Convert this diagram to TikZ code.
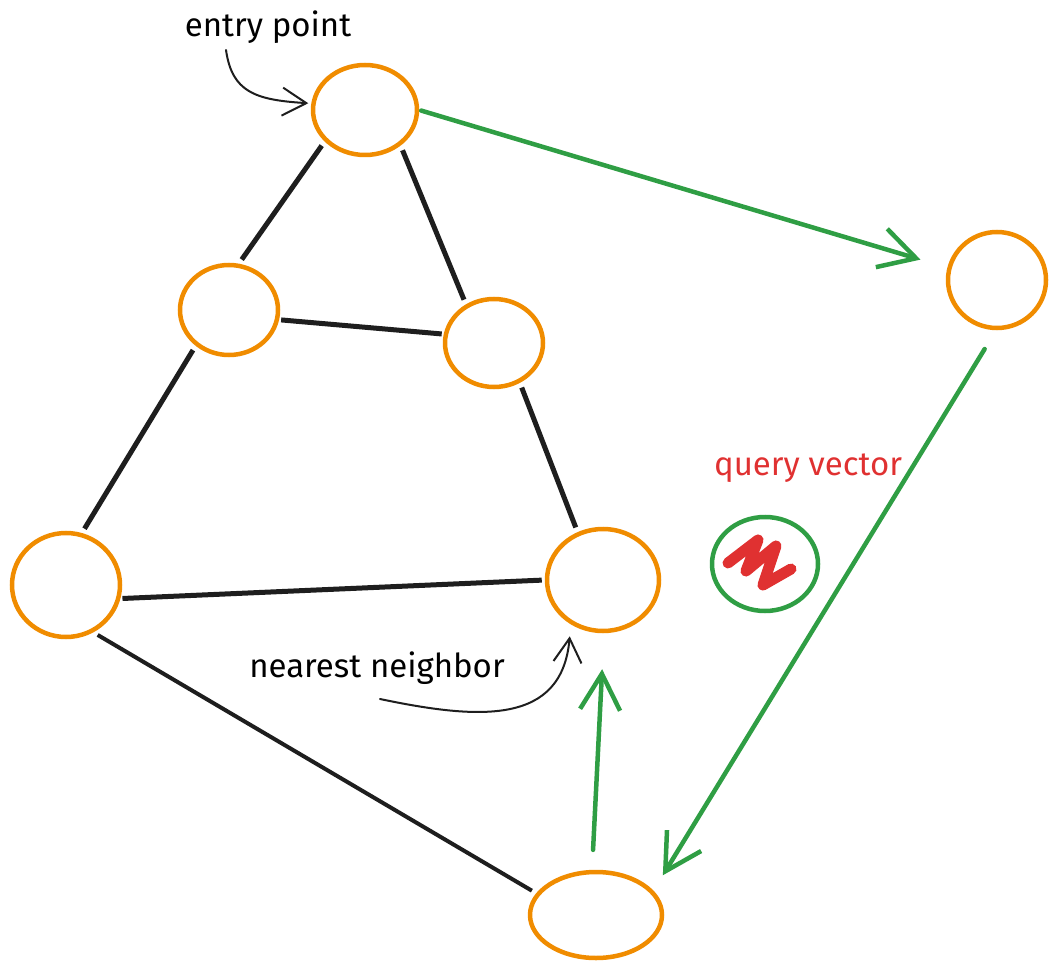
\documentclass[tikz,border=0pt]{standalone}
\usepackage{fontspec}
\setmainfont{Fira Sans}
\usetikzlibrary{arrows.meta,shapes.geometric}
\definecolor{nodeorange}{HTML}{F08C00}
\definecolor{pathgreen}{HTML}{2F9E44}
\definecolor{queryred}{HTML}{E03131}
\definecolor{ink}{HTML}{1E1E1E}

\begin{document}
\begin{tikzpicture}[x=1pt,y=-1pt,
  vertex/.style={ellipse, draw=nodeorange, line width=4.5pt, inner sep=0pt},
  edge/.style={draw=ink, line width=5pt, shorten <=5pt, shorten >=5pt},
  hop/.style={draw=pathgreen, line width=4.5pt, line cap=round,
    -{Straight Barb[length=36pt,width=40pt]}},
  note/.style={draw=ink, line width=2pt, line cap=round,
    -{Straight Barb[length=24pt,width=28pt]}},
  annot/.style={font=\fontsize{33}{38}\selectfont, anchor=base, inner sep=0pt}
]
\useasboundingbox (0,0) rectangle (1049,965);

% graph vertices
\node[vertex, minimum width=104pt, minimum height=90pt] (A) at (365,110) {};
\node[vertex, minimum width=98pt,  minimum height=96pt] (B) at (997,280) {};
\node[vertex, minimum width=98pt,  minimum height=90pt] (C) at (229,310) {};
\node[vertex, minimum width=98pt,  minimum height=88pt] (D) at (494,343) {};
\node[vertex, minimum width=108pt, minimum height=104pt] (E) at (66,585) {};
\node[vertex, minimum width=112pt, minimum height=102pt] (F) at (603,580) {};
\node[vertex, minimum width=132pt, minimum height=86pt] (G) at (596,915) {};

% query point
\node[ellipse, draw=pathgreen, line width=4.5pt, inner sep=0pt,
      minimum width=106pt, minimum height=94pt] (Q) at (765,564) {};
\draw[queryred, line width=11pt, line join=round, line cap=round]
  (728,563) -- (758,540) -- (746,571) -- (776,546) -- (763,585) -- (791,569);

% graph edges
\path[edge] (A.218) -- (C.78);
\path[edge] (A.315) -- (D.126);
\path[edge, shorten <=2pt, shorten >=2pt] (C.349) -- (D.170);
\path[edge] (C.227) -- (E.73);
\path[edge] (D.303) -- (F.118);
\path[edge, shorten <=2pt, shorten >=3pt] (E.346) -- (F.180);
\path[edge, line width=4pt] (E.300) -- (G.160);

% search path
\draw[hop, shorten <=2pt, shorten >=28pt] (A.0) -- (B.166);
\draw[hop, shorten <=22pt, shorten >=18pt] (B.269) -- (G.23);
\draw[hop, shorten <=20pt, shorten >=36pt] (G.95) -- (F.271);

% annotations
\node[annot] (entryLabel) at (268,37) {entry point};
\node[annot, text=queryred] (queryLabel) at (808,475) {query vector};
\node[annot] (nnLabel) at (377,677) {nearest neighbor};

\coordinate (epTail) at (226,50);
\draw[note, shorten >=3pt] (epTail) .. controls (232,92) and (255,100) .. (A.173);
\coordinate (nnTail) at (380,699);
\draw[note, shorten >=12pt] (nnTail) .. controls (480,720) and (562,725) .. (F.234);
\end{tikzpicture}
\end{document}
